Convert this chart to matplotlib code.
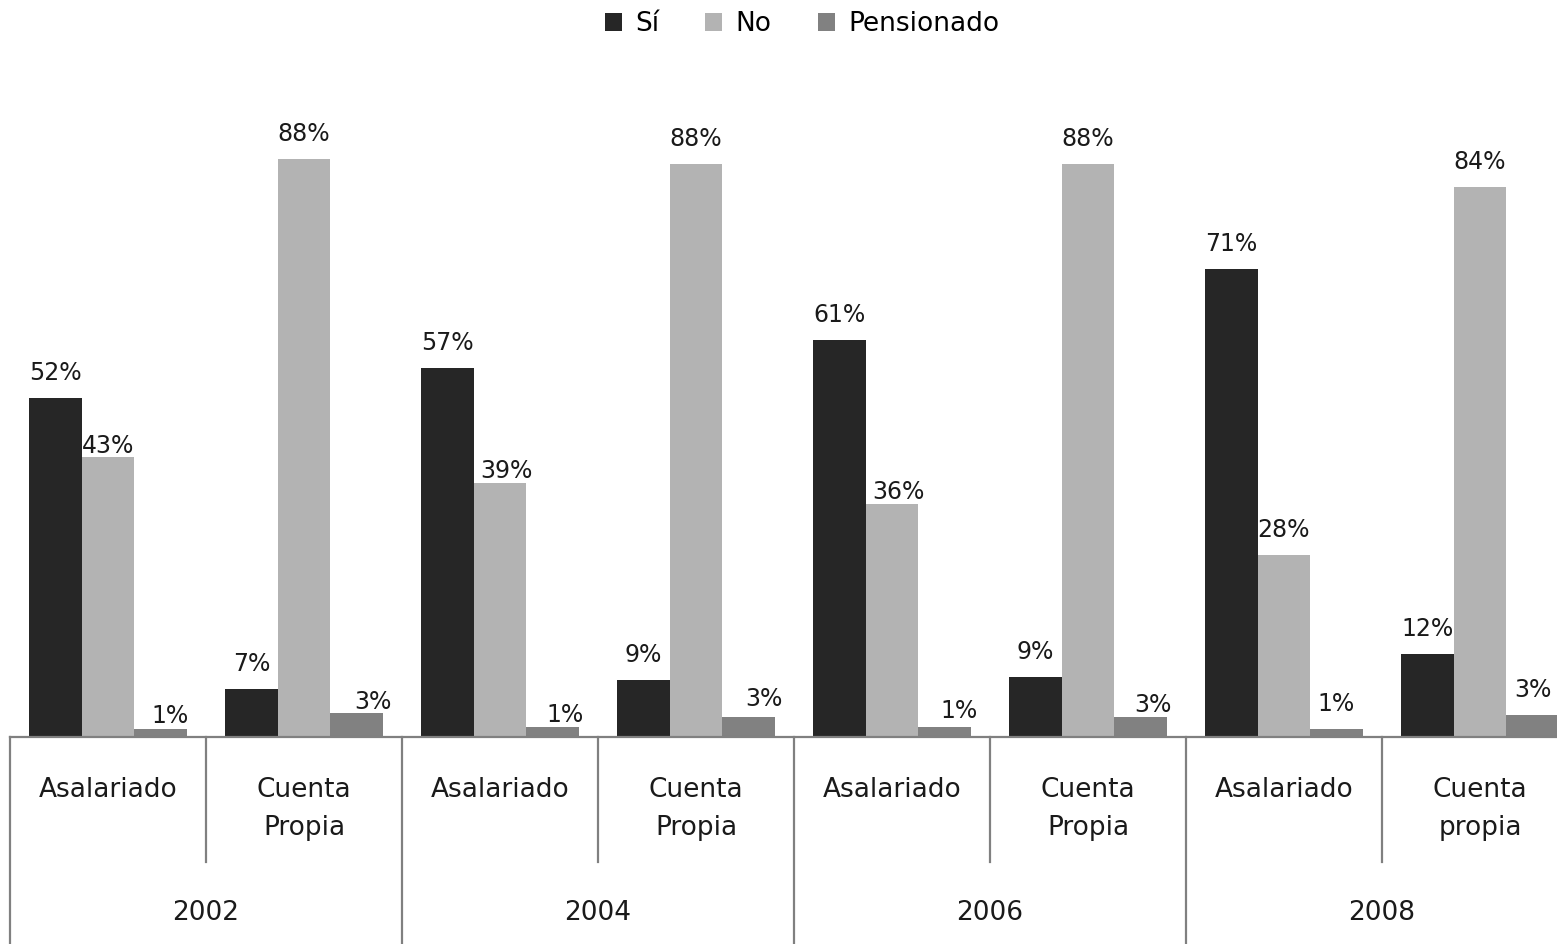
import matplotlib
matplotlib.use("Agg")
import matplotlib.pyplot as plt
from matplotlib.patches import Patch
import numpy as np

plt.rcParams['font.family'] = ['DejaVu Sans']

years = ['2002', '2004', '2006', '2008']
types = [['Asalariado', 'Cuenta\nPropia']] * 3 + [['Asalariado', 'Cuenta\npropia']]
series = ['Sí', 'No', 'Pensionado']

# one value per (year, type), in order 2002 Asal, 2002 CP, 2004 Asal, ...
si = [51.6, 7.3, 56.2, 8.7, 60.4, 9.1, 71.2, 12.6]
no = [42.6, 88.0, 38.7, 87.2, 35.5, 87.2, 27.7, 83.7]
pens = [1.2, 3.6, 1.5, 3.0, 1.5, 3.0, 1.2, 3.4]

si_lbl = ['52%', '7%', '57%', '9%', '61%', '9%', '71%', '12%']
no_lbl = ['43%', '88%', '39%', '88%', '36%', '88%', '28%', '84%']
pens_lbl = ['1%', '3%', '1%', '3%', '1%', '3%', '1%', '3%']

colors = ['#262626', '#b3b3b3', '#818181']

W, H = 1557, 944
fig = plt.figure(figsize=(W / 100, H / 100), dpi=100)
base_px = 737
px_per_unit = 6.57
ax = fig.add_axes([10 / W, (H - base_px) / H, 1568 / W, 100 * px_per_unit / H])
ax.set_xlim(0, 8)
ax.set_ylim(0, 100)
ax_h = 100 * px_per_unit

x = np.arange(8) + 0.5
bw = 0.268
# label nudges in pixels (dx, dy_center_above_top)
nudge = {
    (1, 0): (0, 11), (2, 0): (10, 13), (2, 1): (16, 11),
    (1, 2): (6, 12), (2, 2): (13, 12), (2, 3): (15, 18),
    (1, 4): (6, 12), (2, 4): (15, 16), (2, 5): (12, 12),
}
for k, (vals, lbls) in enumerate(zip([si, no, pens], [si_lbl, no_lbl, pens_lbl])):
    xs = x + (k - 1) * bw
    ax.bar(xs, vals, width=bw, color=colors[k], linewidth=0, zorder=2)
    for i, (xi, v, t) in enumerate(zip(xs, vals, lbls)):
        dx, dy = nudge.get((k, i), (0, 25))
        ax.annotate(t, (xi, v), xytext=(dx * 0.72, dy * 0.72), textcoords='offset points',
                    ha='center', va='center', fontsize=17, color='#1a1a1a')

for s in ['top', 'left', 'right']:
    ax.spines[s].set_visible(False)
ax.spines['bottom'].set_color('#808080')
ax.spines['bottom'].set_linewidth(1.6)
ax.set_xticks([])
ax.set_yticks([])

tr = ax.get_xaxis_transform()
def fy(py):
    return (base_px - py) / ax_h

line_kw = dict(transform=tr, clip_on=False, color='#808080', lw=1.6)
for b in range(9):
    if b % 2 == 0:
        ax.plot([b, b], [0, fy(H + 5)], **line_kw)
    else:
        ax.plot([b, b], [0, fy(862)], **line_kw)

for j, yr in enumerate(years):
    for t in range(2):
        ax.text(2 * j + t + 0.5, fy(790), types[j][t].split('\n')[0], transform=tr,
                ha='center', va='center', fontsize=19, color='#1a1a1a')
        if '\n' in types[j][t]:
            ax.text(2 * j + t + 0.5, fy(828), types[j][t].split('\n')[1], transform=tr,
                    ha='center', va='center', fontsize=19, color='#1a1a1a')
    ax.text(2 * j + 1, fy(913), yr, transform=tr, ha='center', va='center',
            fontsize=19, color='#1a1a1a')

handles = [Patch(facecolor=c, edgecolor='none') for c in colors]
fig.legend(handles, series, loc='center', bbox_to_anchor=(802 / W, 1 - 24 / H), ncol=3,
           frameon=False, fontsize=19, handlelength=0.65, handleheight=0.65,
           handletextpad=0.5, columnspacing=1.75)

fig.savefig('out.png', dpi=100, facecolor='white')
